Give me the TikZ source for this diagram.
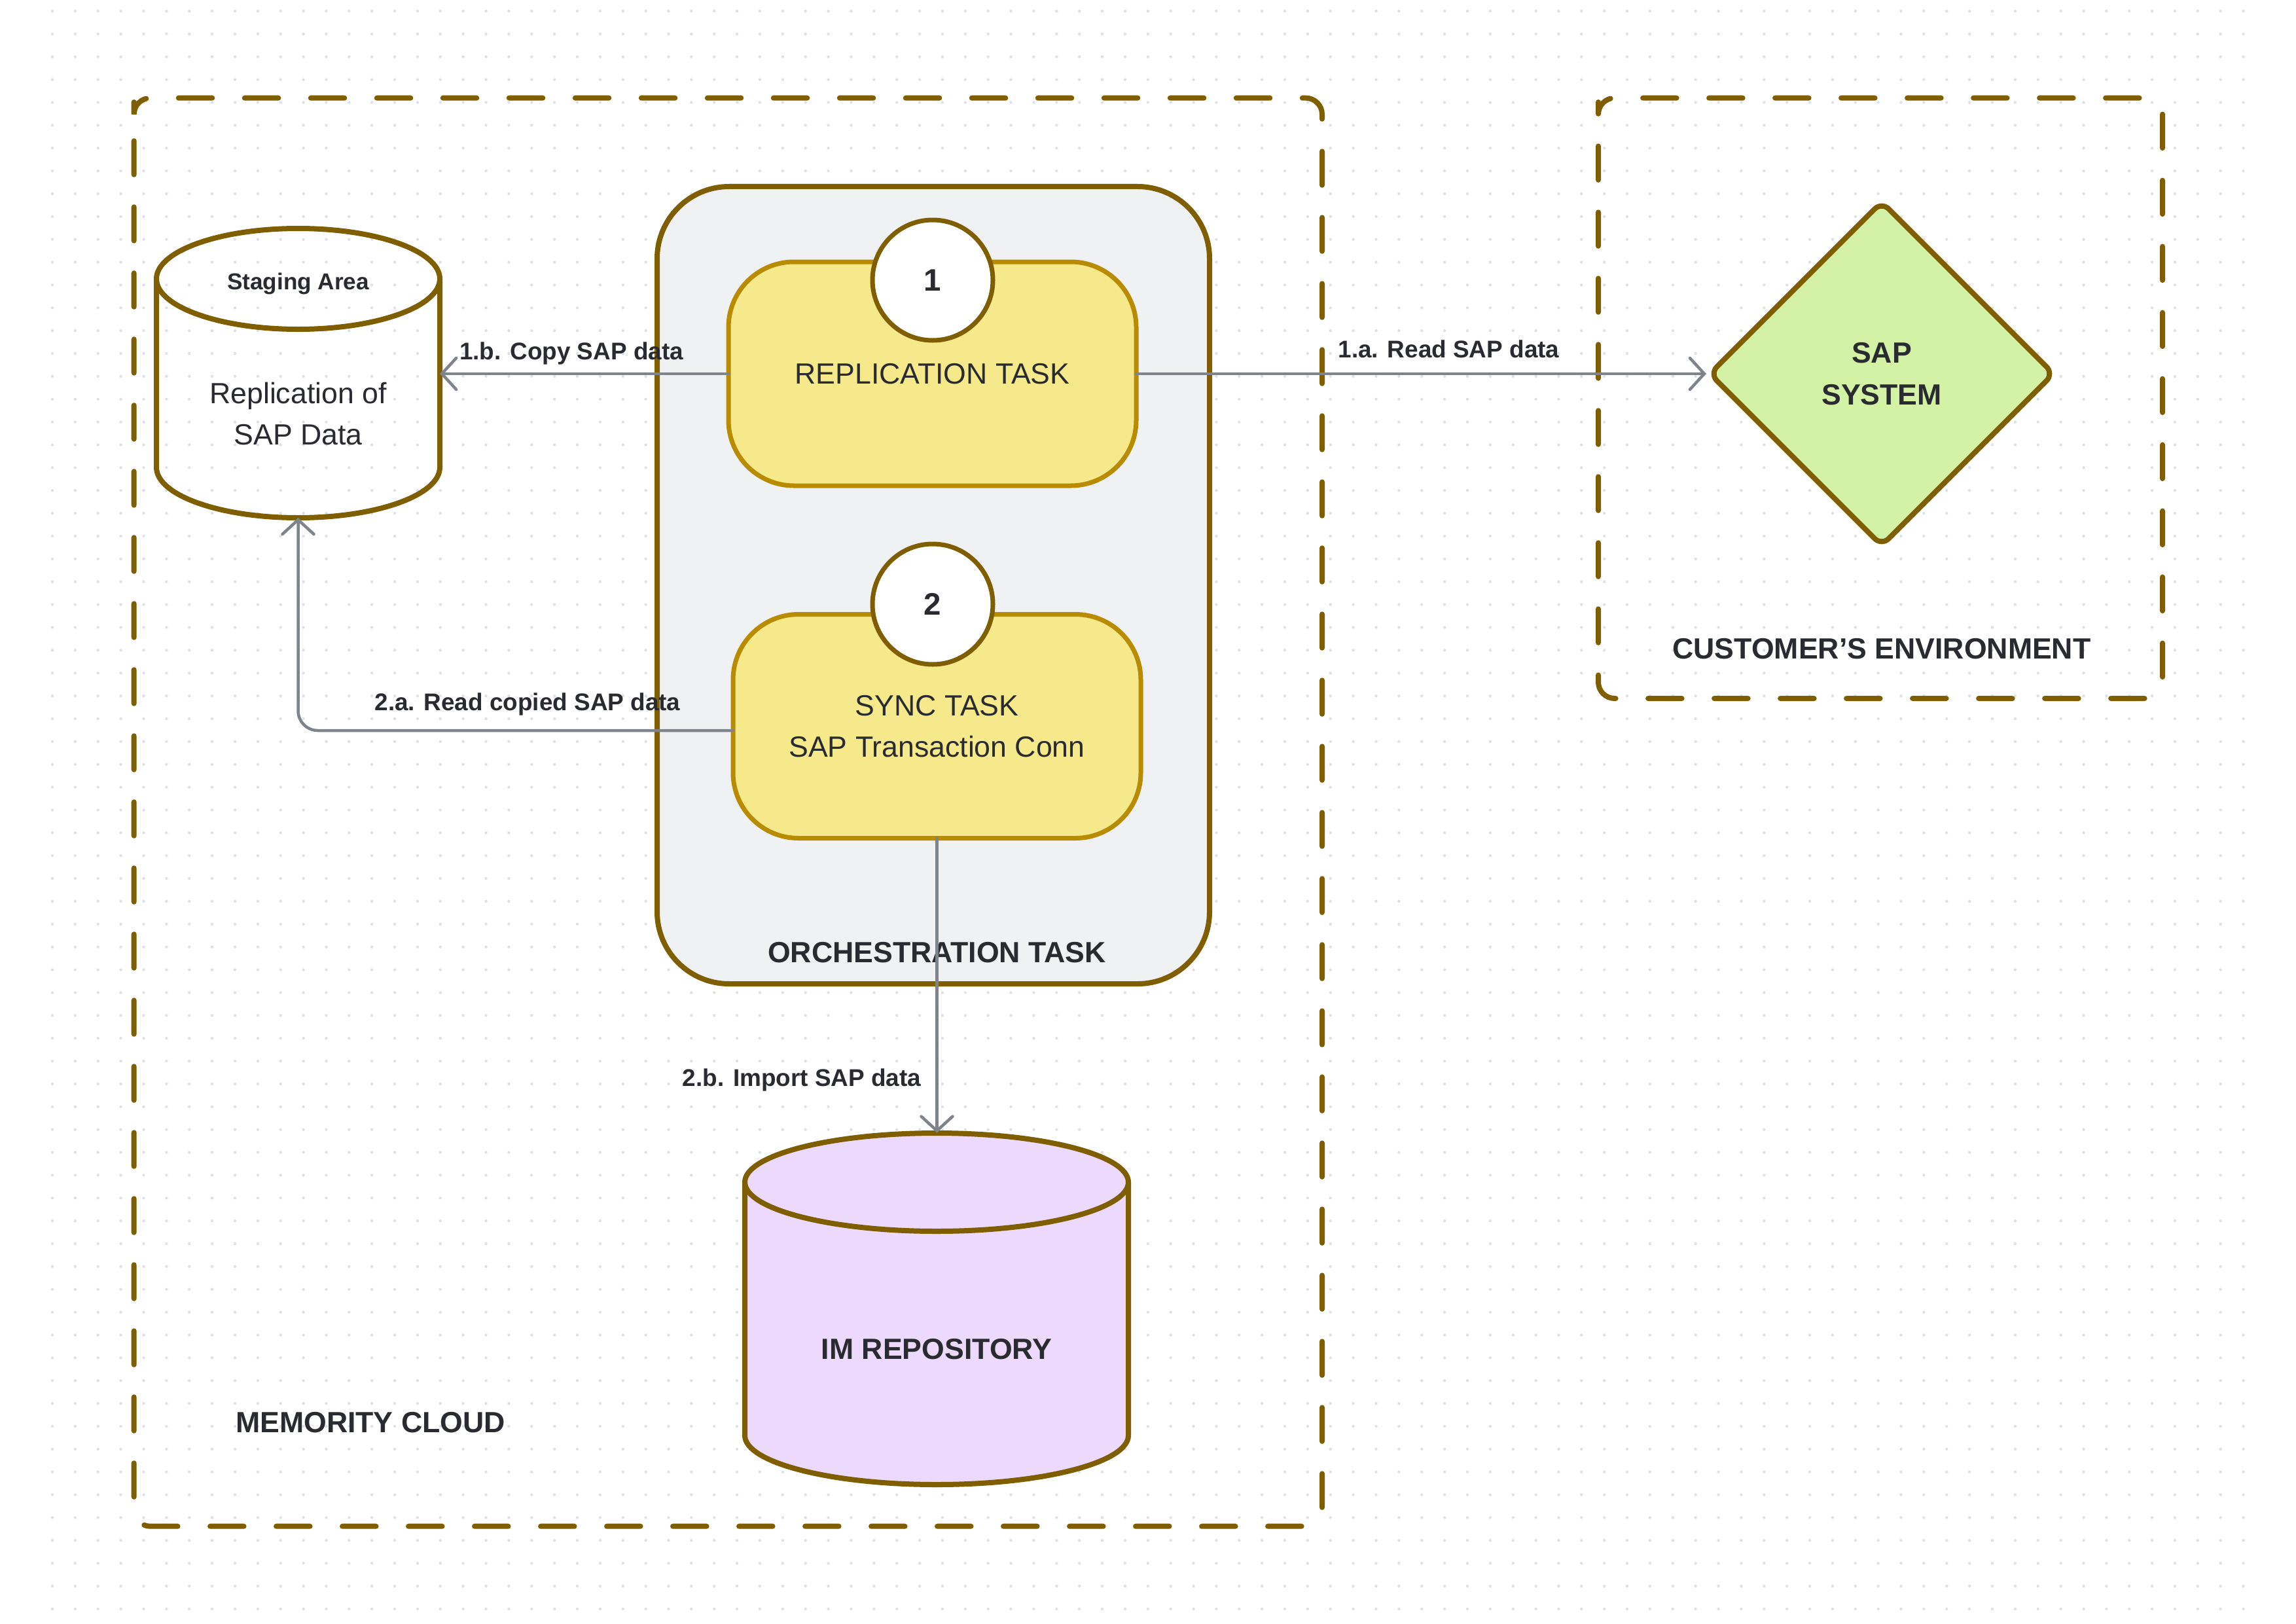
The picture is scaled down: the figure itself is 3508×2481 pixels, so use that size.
\documentclass[tikz,border=0pt]{standalone}
\usepackage{fontspec}
\setmainfont{Liberation Sans}
\usetikzlibrary{arrows.meta,shapes.geometric,calc}
\definecolor{gold}{HTML}{7F5E00}
\definecolor{taskline}{HTML}{B88B00}
\definecolor{taskfill}{HTML}{F5E98B}
\definecolor{orchfill}{HTML}{F0F1F3}
\definecolor{sapfill}{HTML}{D4F2A6}
\definecolor{imfill}{HTML}{EDD9FB}
\definecolor{ink}{HTML}{2A2B30}
\definecolor{arrowc}{HTML}{7F838B}
\definecolor{dotc}{HTML}{DEE1E7}
\newcommand\taskfont{\fontsize{25.4}{36.2}\selectfont}
\newcommand\ttlfont{\fontsize{25.4}{36.2}\selectfont\bfseries}
\newcommand\lblfont{\fontsize{21}{25}\selectfont\bfseries}
\newcommand\stgfont{\fontsize{20}{24}\selectfont\bfseries}
\newcommand\numfont{\fontsize{27}{30}\selectfont\bfseries}
\begin{document}
\begin{tikzpicture}[x=0.2mm,y=-0.2mm,
  every node/.style={outer sep=0pt},
  box/.style={draw=gold, line width=1.6mm, dash pattern=on 10.3mm off 9.9mm, line cap=round, rounded corners=5mm},
  task/.style={draw=taskline, fill=taskfill, line width=1.4mm, rounded corners=20mm, minimum width=124.6mm, minimum height=68.4mm, inner sep=0pt, align=center, font=\taskfont, text=ink},
  num/.style={circle, draw=gold, fill=white, line width=1.4mm, minimum size=36.8mm, inner sep=0pt, font=\numfont, text=ink},
  ttl/.style={font=\ttlfont, text=ink, inner sep=0pt, anchor=base},
  lbl/.style={font=\lblfont, text=ink, inner sep=0pt, anchor=base},
  cyl/.style={draw=gold, line width=1.6mm},
  dotrow/.style={draw=dotc, line width=0.88mm, line cap=round, dash pattern=on 0mm off 6.974mm},
  conn/.style={draw=arrowc, line width=0.9mm, line cap=round, -{Straight Barb[length=4.4mm,width=9.6mm,line cap=round]}}
]
\useasboundingbox (0,0) rectangle (3508,2481);
\fill[white] (0,0) rectangle (3508,2481);
% dot grid
\foreach \j in {0,...,70}{\draw[dotrow] (80,17+\j*34.87) -- (3440,17+\j*34.87);}

% containers
\draw[box] (204.7,181) -- (204.7,149.7) -- (2020,149.7) -- (2020,2331.7) -- (204.7,2331.7) -- cycle;
\draw[box] (2442,181) -- (2442,149.7) -- (3304,149.7) -- (3304,1067) -- (2442,1067) -- cycle;
\node[ttl] (cloudttl) at (566,2188) {MEMORITY CLOUD};
\node[ttl] (custttl) at (2875,1006) {CUSTOMER’S ENVIRONMENT};

% orchestration
\node[draw=gold, fill=orchfill, line width=1.6mm, rounded corners=22mm, minimum width=168.8mm, minimum height=243.6mm, inner sep=0pt] (orch) at (1426,894) {};
\node[ttl] (orchttl) at (1431.5,1470) {ORCHESTRATION TASK};

% tasks
\node[task] (rep) at (1424.5,571) {REPLICATION TASK};
\node[task] (sync) at (1431.5,1109.5) {SYNC TASK\\SAP Transaction Conn};
\node[num] (c1) at (1425,428) {1};
\node[num] (c2) at (1425,923) {2};

% staging cylinder
\node[inner sep=0pt, minimum width=86.6mm, minimum height=88.4mm] (stage) at (455.5,570) {};
\draw[cyl] (239,426) -- (239,714) arc[start angle=180, end angle=0, x radius=216.5, y radius=77] -- (672,426);
\draw[cyl] (455.5,426) ellipse[x radius=216.5, y radius=77];
\node[font=\stgfont, text=ink, inner sep=0pt, anchor=base] (stagettl) at (455.5,442) {Staging Area};
\node[font=\taskfont, text=ink, inner sep=0pt, align=center] (stagetxt) at (455.5,632) {Replication of\\SAP Data};

% IM repository cylinder
\node[inner sep=0pt, minimum width=117.2mm, minimum height=107.5mm] (im) at (1431,1999.3) {};
\fill[imfill] (1138,1806) -- (1138,2193) arc[start angle=180, end angle=0, x radius=293, y radius=75] -- (1724,1806) arc[start angle=0, end angle=-180, x radius=293, y radius=75] -- cycle;
\draw[cyl] (1138,1806) -- (1138,2193) arc[start angle=180, end angle=0, x radius=293, y radius=75] -- (1724,1806);
\draw[cyl] (1431,1806) ellipse[x radius=293, y radius=75];
\node[ttl] (imtxt) at (1431,2076.5) {IM REPOSITORY};

% SAP system
\node[diamond, aspect=1, draw=gold, fill=sapfill, line width=1.6mm, rounded corners=3mm, minimum width=105mm, minimum height=105mm, inner sep=0pt, align=center, font=\ttlfont, text=ink] (sap) at (2875,571) {SAP\\SYSTEM};

% connectors
\draw[conn, shorten >=1.1mm] (rep.east) -- (sap.west);
\draw[conn] (rep.west) -- (rep.west -| stage.east);
\draw[conn, rounded corners=6mm] ($(sync.west)+(0,6.5)$) -| (stage.south);
\draw[conn] (sync.south) -- (sync.south |- im.north);

% connector labels
\node[lbl] (la) at (2213.5,546.7) {1.a. Read SAP data};
\node[lbl] (lb) at (873,549.5) {1.b. Copy SAP data};
\node[lbl] (l2a) at (806,1085) {2.a. Read copied SAP data};
\node[lbl] (l2b) at (1225,1659) {2.b. Import SAP data};
\end{tikzpicture}
\end{document}
